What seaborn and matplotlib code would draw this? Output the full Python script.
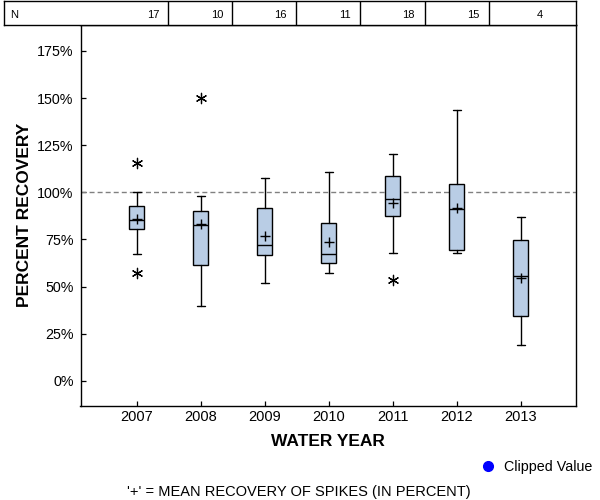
import matplotlib
matplotlib.use("Agg")
import matplotlib.pyplot as plt
from matplotlib.lines import Line2D
import seaborn as sns
import pandas as pd

# ---- data ----
years = ["2007", "2008", "2009", "2010", "2011", "2012", "2013"]
n_counts = [17, 10, 16, 11, 18, 15, 4]
whisker_low = [67.1, 39.7, 51.8, 57.5, 67.7, 67.7, 18.9]
q1 = [80.4, 61.4, 66.6, 62.8, 87.3, 69.6, 34.3]
median = [85.2, 82.5, 71.9, 67.2, 96.3, 91.1, 55.6]
q3 = [92.9, 89.9, 91.5, 83.6, 108.8, 104.6, 74.6]
whisker_high = [100.3, 98.2, 107.7, 110.6, 120.1, 143.5, 87.1]
mean = [85.7, 83.2, 77.0, 73.8, 94.5, 91.5, 54.4]
outlier_year = ["2007", "2007", "2008", "2011"]
outlier_value = [115.4, 57.1, 150.1, 53.7]
y_ticks = [0, 25, 50, 75, 100, 125, 150, 175]
y_tick_labels = ["0%", "25%", "50%", "75%", "100%", "125%", "150%", "175%"]
reference_value = 100

sns.set_theme(style="white")
plt.rcParams["font.family"] = ["Liberation Sans", "DejaVu Sans"]

W, H = 600, 500
fig = plt.figure(figsize=(6, 5), dpi=100)

def px_box(x0, y0, x1, y1):
    return [x0 / W, 1 - y1 / H, (x1 - x0) / W, (y1 - y0) / H]

ax = fig.add_axes(px_box(80.5, 25, 576, 405.7))
tab = fig.add_axes(px_box(4, 0.5, 576, 25))

box_fill = "#b9cde5"
pos = list(range(len(years)))
stats = []
for i, y in enumerate(years):
    stats.append(dict(label=y, whislo=whisker_low[i], q1=q1[i], med=median[i],
                      q3=q3[i], whishi=whisker_high[i], fliers=[]))
ax.bxp(stats, positions=pos, widths=0.24, patch_artist=True, showfliers=False,
       boxprops=dict(facecolor=box_fill, edgecolor="black", linewidth=1.0),
       medianprops=dict(color="black", linewidth=1.0),
       whiskerprops=dict(color="black", linewidth=1.0),
       capprops=dict(color="black", linewidth=1.0),
       capwidths=0.125, zorder=2)

ax.axhline(reference_value, color="#808080", linewidth=1.0,
           linestyle=(0, (3.6, 2.2)), zorder=1)

mean_df = pd.DataFrame({"x": pos, "mean": mean})
sns.scatterplot(data=mean_df, x="x", y="mean", ax=ax, marker="+", s=60,
                color="black", linewidth=1.0, zorder=4, legend=False)

out_df = pd.DataFrame({"x": [years.index(y) for y in outlier_year], "v": outlier_value})
sns.scatterplot(data=out_df, x="x", y="v", ax=ax, marker=(6, 2, 0), s=55,
                color="black", linewidth=0.9, zorder=4, legend=False)

ax.set_xlim(-0.875, 6.867)
ax.set_ylim(-13.1, 188.7)
ax.set_xticks(pos)
ax.set_xticklabels(years, fontsize=10.5)
ax.set_yticks(y_ticks)
ax.set_yticklabels(y_tick_labels, fontsize=10.3)
ax.set_xlabel("")
ax.set_ylabel("")
ax.tick_params(axis="both", direction="in", length=3.6, width=0.9, colors="black",
               labelcolor="black")
ax.tick_params(axis="x", pad=3)
ax.tick_params(axis="y", pad=5)
ax.tick_params(axis="both", which="both", left=True, bottom=True)
for s in ax.spines.values():
    s.set_color("black")
    s.set_linewidth(1.0)
    s.set_visible(True)
ax.grid(False)

# N table
tab.set_xlim(-2.07, 6.867)
tab.set_ylim(0, 1)
tab.set_xticks([])
tab.set_yticks([])
for s in tab.spines.values():
    s.set_color("black")
    s.set_linewidth(1.0)
for i in range(len(years) - 1):
    tab.axvline(i + 0.5, color="black", linewidth=1.0)
tab.text(-2.07 + 6 / 64, 0.42, "N", fontsize=8, ha="left", va="center", color="black")
for i, n in enumerate(n_counts):
    tab.text(i + 0.5 - 9.5 / 64, 0.42, str(n), fontsize=8, ha="right", va="center",
             color="black")

# labels
fig.text(24.5 / W, 1 - 215 / H, "PERCENT RECOVERY", rotation=90, fontsize=12.5,
         fontweight="bold", ha="center", va="center", color="black")
fig.text(328 / W, 1 - 442 / H, "WATER YEAR", fontsize=12.5, fontweight="bold",
         ha="center", va="center", color="black")
fig.add_artist(Line2D([488 / W], [1 - 465.5 / H], marker="o", markersize=7,
                      color="#0000ff", linestyle="none", transform=fig.transFigure))
fig.text(504 / W, 1 - 466.5 / H, "Clipped Value", fontsize=10.3, ha="left", va="center",
         color="black")
fig.text(299 / W, 1 - 492 / H, "'+' = MEAN RECOVERY OF SPIKES (IN PERCENT)",
         fontsize=10.5, ha="center", va="center", color="black")

fig.savefig("out.png", dpi=100, facecolor="white")
